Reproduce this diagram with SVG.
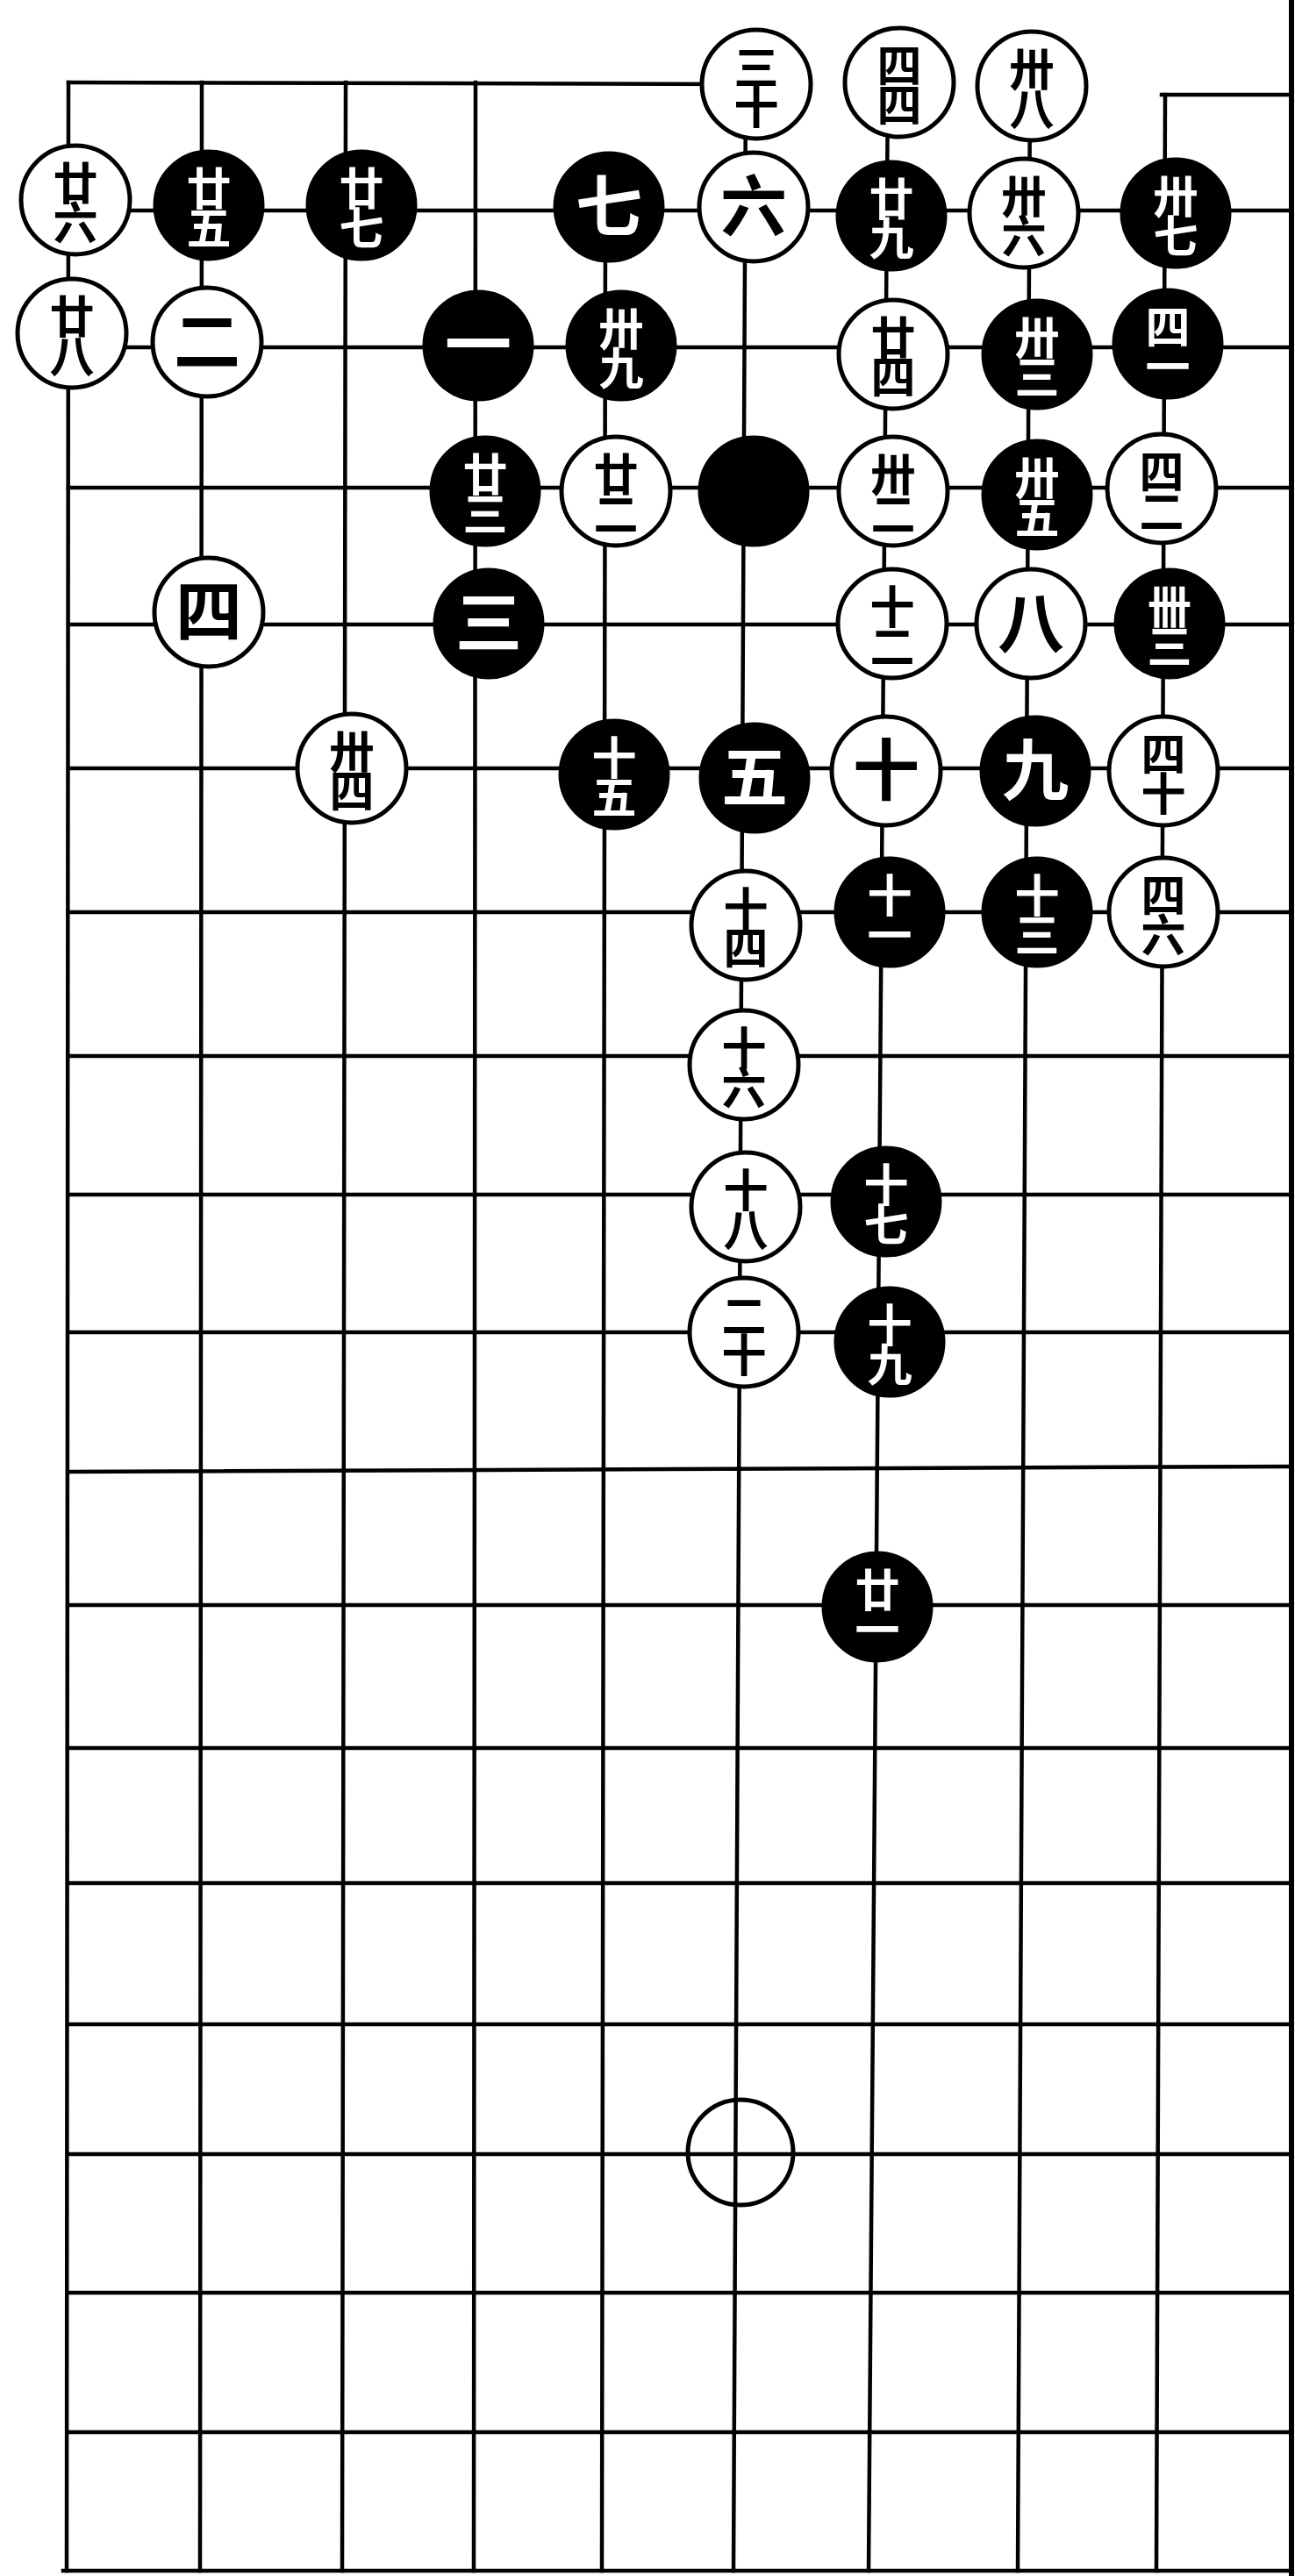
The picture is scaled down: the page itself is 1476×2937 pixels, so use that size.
<svg xmlns="http://www.w3.org/2000/svg" width="1476" height="2937" viewBox="0 0 1476 2937">
<style>
.ln{stroke:#000;stroke-width:4.5;fill:none;stroke-linecap:square}
.bd{stroke:#000;stroke-width:6;fill:none}
.b{fill:#000;stroke:#000;stroke-width:3}
.w{fill:#fff;stroke:#000;stroke-width:5}
.mk{fill:none;stroke:#000;stroke-width:5}
text{font-family:"Noto Sans CJK SC","Noto Sans CJK TC",sans-serif;font-weight:700;text-anchor:middle}
.tb{fill:#fff}
.tw{fill:#000}
.one{font-size:76px}
.two{font-size:51px;writing-mode:vertical-rl;letter-spacing:-6px}
</style>
<rect width="1476" height="2937" fill="#fff"/>
<g id="connectors">
<line class="ln" x1="78" y1="94" x2="862" y2="96"/>
<line class="ln" x1="1324" y1="108" x2="1472" y2="108"/>
<line class="ln" x1="78" y1="240" x2="1472" y2="240"/>
<line class="ln" x1="78" y1="396" x2="1472" y2="396"/>
<line class="ln" x1="78" y1="556" x2="1472" y2="556"/>
<line class="ln" x1="78" y1="712" x2="1472" y2="712"/>
<line class="ln" x1="78" y1="876" x2="1472" y2="876"/>
<line class="ln" x1="78" y1="1040" x2="1472" y2="1040"/>
<line class="ln" x1="78" y1="1204" x2="1472" y2="1204"/>
<line class="ln" x1="78" y1="1362" x2="1472" y2="1362"/>
<line class="ln" x1="78" y1="1519" x2="1472" y2="1519"/>
<line class="ln" x1="78" y1="1678" x2="1472" y2="1672"/>
<line class="ln" x1="78" y1="1830" x2="1472" y2="1830"/>
<line class="ln" x1="78" y1="1993" x2="1472" y2="1993"/>
<line class="ln" x1="78" y1="2147" x2="1472" y2="2147"/>
<line class="ln" x1="78" y1="2308" x2="1472" y2="2308"/>
<line class="ln" x1="78" y1="2456" x2="1472" y2="2456"/>
<line class="ln" x1="78" y1="2614" x2="1472" y2="2614"/>
<line class="ln" x1="78" y1="2773" x2="1472" y2="2773"/>
<line class="ln" x1="72" y1="2931" x2="1472" y2="2931"/>
<line class="ln" x1="78" y1="94" x2="76" y2="2931"/>
<line class="ln" x1="230" y1="94" x2="228" y2="2931"/>
<line class="ln" x1="394" y1="94" x2="390" y2="2931"/>
<line class="ln" x1="542" y1="94" x2="540" y2="2931"/>
<line class="ln" x1="690" y1="240" x2="686" y2="2931"/>
<line class="ln" x1="850" y1="94" x2="836" y2="2931"/>
<line class="ln" x1="1012" y1="94" x2="990" y2="2931"/>
<line class="ln" x1="1174" y1="94" x2="1160" y2="2931"/>
<line class="ln" x1="1328" y1="108" x2="1318" y2="2931"/>
<line class="bd" x1="1472" y1="0" x2="1472" y2="2937"/>
</g>
<g id="marker-15">
<circle class="mk" cx="844" cy="2454" r="60"/>
</g>
<g id="w30"><circle class="w" cx="862" cy="96" r="62"/><text class="tw two" x="862" y="96">三十</text></g>
<g id="w44"><circle class="w" cx="1025" cy="94" r="62"/><text class="tw two" x="1025" y="94">四四</text></g>
<g id="w38"><circle class="w" cx="1176" cy="98" r="62"/><text class="tw two" x="1176" y="98">卅八</text></g>
<g id="w26"><circle class="w" cx="86" cy="228" r="62"/><text class="tw two" x="86" y="228">廿六</text></g>
<g id="b25"><circle class="b" cx="238" cy="234" r="62"/><text class="tb two" x="238" y="234">廿五</text></g>
<g id="b27"><circle class="b" cx="412" cy="234" r="62"/><text class="tb two" x="412" y="234">廿七</text></g>
<g id="b7"><circle class="b" cx="694" cy="236" r="62"/><text class="tb one" x="694" y="263">七</text></g>
<g id="w6"><circle class="w" cx="859" cy="236" r="62"/><text class="tw one" x="859" y="263">六</text></g>
<g id="b29"><circle class="b" cx="1016" cy="246" r="62"/><text class="tb two" x="1016" y="246">廿九</text></g>
<g id="w36"><circle class="w" cx="1167" cy="243" r="62"/><text class="tw two" x="1167" y="243">卅六</text></g>
<g id="b37"><circle class="b" cx="1340" cy="243" r="62"/><text class="tb two" x="1340" y="243">卅七</text></g>
<g id="w28"><circle class="w" cx="82" cy="380" r="62"/><text class="tw two" x="82" y="380">廿八</text></g>
<g id="w2"><circle class="w" cx="236" cy="390" r="62"/><text class="tw one" x="236" y="417">二</text></g>
<g id="b1"><circle class="b" cx="545" cy="394" r="62"/><text class="tb one" x="545" y="421">一</text></g>
<g id="b39"><circle class="b" cx="708" cy="394" r="62"/><text class="tb two" x="708" y="394">卅九</text></g>
<g id="w24"><circle class="w" cx="1018" cy="404" r="62"/><text class="tw two" x="1018" y="404">廿四</text></g>
<g id="b33"><circle class="b" cx="1182" cy="404" r="62"/><text class="tb two" x="1182" y="404">卅三</text></g>
<g id="b41"><circle class="b" cx="1331" cy="392" r="62"/><text class="tb two" x="1331" y="392">四一</text></g>
<g id="b23"><circle class="b" cx="553" cy="560" r="62"/><text class="tb two" x="553" y="560">廿三</text></g>
<g id="w22"><circle class="w" cx="702" cy="560" r="62"/><text class="tw two" x="702" y="560">廿二</text></g>
<g id="b31"><circle class="b" cx="859" cy="560" r="62"/></g>
<g id="w32"><circle class="w" cx="1018" cy="560" r="62"/><text class="tw two" x="1018" y="560">卅二</text></g>
<g id="b35"><circle class="b" cx="1182" cy="564" r="62"/><text class="tb two" x="1182" y="564">卅五</text></g>
<g id="w42"><circle class="w" cx="1324" cy="557" r="62"/><text class="tw two" x="1324" y="557">四二</text></g>
<g id="w4"><circle class="w" cx="238" cy="698" r="62"/><text class="tw one" x="238" y="725">四</text></g>
<g id="b3"><circle class="b" cx="557" cy="711" r="62"/><text class="tb one" x="557" y="738">三</text></g>
<g id="w12"><circle class="w" cx="1017" cy="711" r="62"/><text class="tw two" x="1017" y="711">十二</text></g>
<g id="w8"><circle class="w" cx="1175" cy="711" r="62"/><text class="tw one" x="1175" y="738">八</text></g>
<g id="b43"><circle class="b" cx="1333" cy="711" r="62"/><text class="tb two" x="1333" y="711">卌三</text></g>
<g id="w34"><circle class="w" cx="401" cy="876" r="62"/><text class="tw two" x="401" y="876">卅四</text></g>
<g id="b15"><circle class="b" cx="700" cy="883" r="62"/><text class="tb two" x="700" y="883">十五</text></g>
<g id="b5"><circle class="b" cx="860" cy="887" r="62"/><text class="tb one" x="860" y="914">五</text></g>
<g id="w10"><circle class="w" cx="1010" cy="879" r="62"/><text class="tw one" x="1010" y="906">十</text></g>
<g id="b9"><circle class="b" cx="1180" cy="879" r="62"/><text class="tb one" x="1180" y="906">九</text></g>
<g id="w40"><circle class="w" cx="1326" cy="879" r="62"/><text class="tw two" x="1326" y="879">四十</text></g>
<g id="w14"><circle class="w" cx="850" cy="1055" r="62"/><text class="tw two" x="850" y="1055">十四</text></g>
<g id="b11"><circle class="b" cx="1014" cy="1040" r="62"/><text class="tb two" x="1014" y="1040">十一</text></g>
<g id="b13"><circle class="b" cx="1182" cy="1040" r="62"/><text class="tb two" x="1182" y="1040">十三</text></g>
<g id="w46"><circle class="w" cx="1326" cy="1040" r="62"/><text class="tw two" x="1326" y="1040">四六</text></g>
<g id="w16"><circle class="w" cx="848" cy="1214" r="62"/><text class="tw two" x="848" y="1214">十六</text></g>
<g id="w18"><circle class="w" cx="850" cy="1376" r="62"/><text class="tw two" x="850" y="1376">十八</text></g>
<g id="b17"><circle class="b" cx="1010" cy="1370" r="62"/><text class="tb two" x="1010" y="1370">十七</text></g>
<g id="w20"><circle class="w" cx="848" cy="1519" r="62"/><text class="tw two" x="848" y="1519">二十</text></g>
<g id="b19"><circle class="b" cx="1014" cy="1530" r="62"/><text class="tb two" x="1014" y="1530">十九</text></g>
<g id="b21"><circle class="b" cx="1000" cy="1832" r="62"/><text class="tb two" x="1000" y="1832">廿一</text></g>
</svg>
